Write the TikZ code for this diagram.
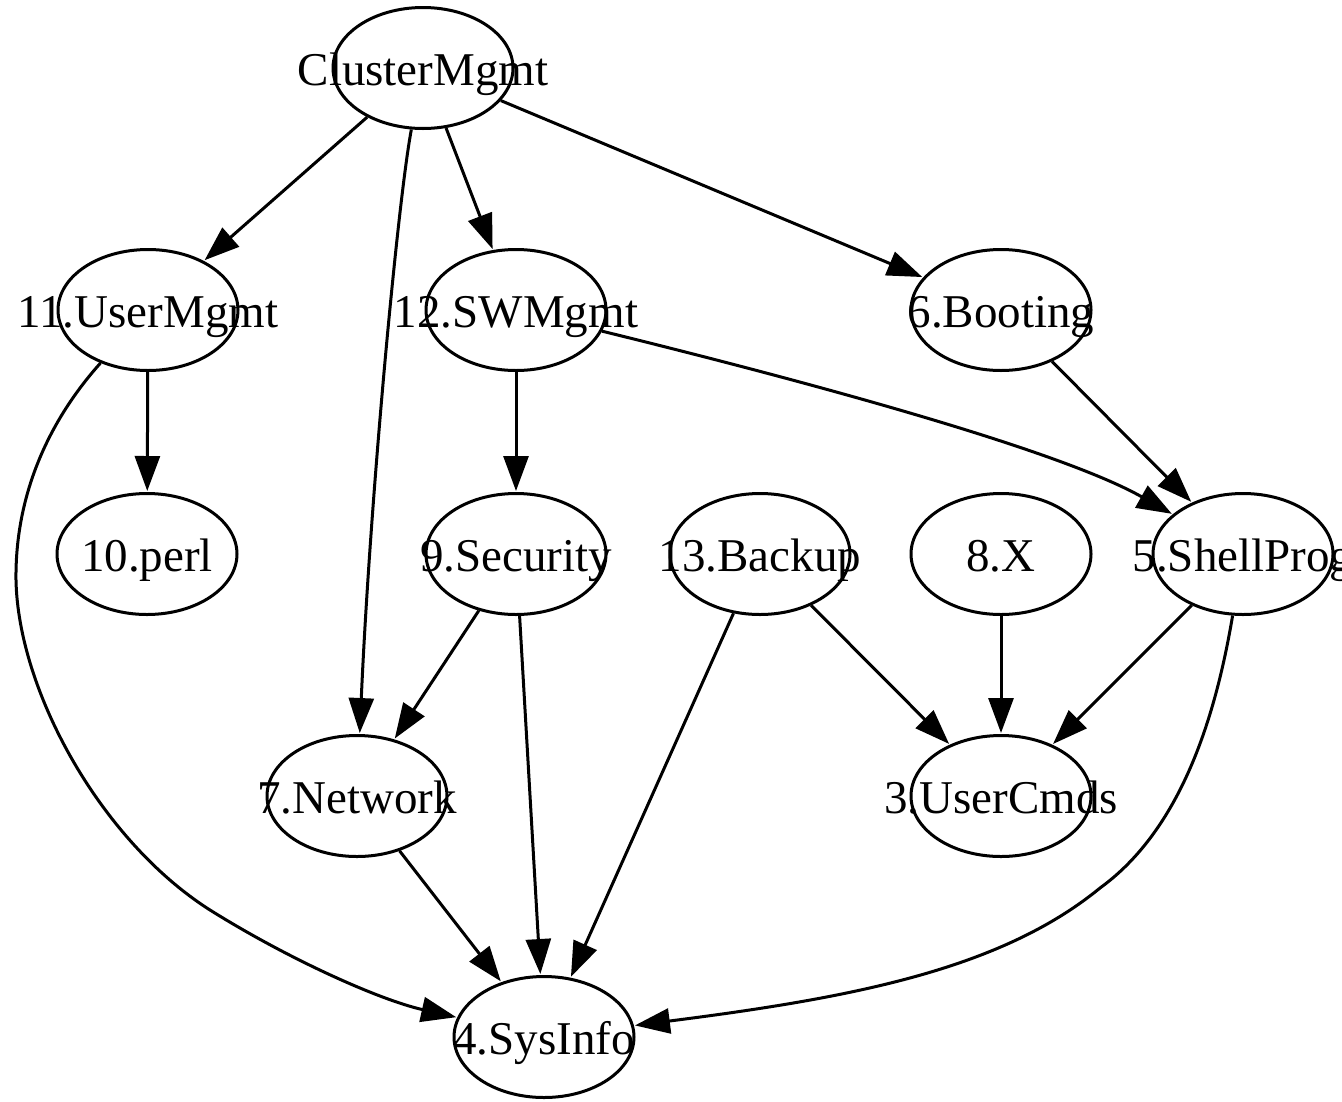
\documentclass[tikz,border=0pt]{standalone}
\usepackage{fontspec}
\setmainfont{Liberation Serif}
\usetikzlibrary{shapes.geometric,arrows.meta}
\begin{document}
\begin{tikzpicture}[x=0.3pt,y=-0.3pt,
  nd/.style={draw,ellipse,line width=0.9pt,minimum width=54pt,minimum height=36.3pt,inner sep=0pt},
  lb/.style={anchor=base,inner sep=0pt,font=\fontsize{14.1}{17}\selectfont},
  arr/.style={line width=0.9pt,-{Triangle[length=10.5pt,width=7.5pt]},shorten >=0.3pt}]
\useasboundingbox (0,0) rectangle (1342,1101);
\newcommand\gvnode[4]{\node[nd] (#1) at (#2,#3) {}; \node[lb] (#1t) at (#2,#3+17) {#4};}
\gvnode{cm}{423}{68}{ClusterMgmt}
\gvnode{um}{148}{310}{11.UserMgmt}
\gvnode{sw}{516}{310}{12.SWMgmt}
\gvnode{bo}{1001}{310}{6.Booting}
\gvnode{pe}{147}{554}{10.perl}
\gvnode{se}{516}{554}{9.Security}
\gvnode{ba}{760}{554}{13.Backup}
\gvnode{xx}{1001}{554}{8.X}
\gvnode{sp}{1243}{554}{5.ShellProg}
\gvnode{nw}{357}{796}{7.Network}
\gvnode{uc}{1001}{796}{3.UserCmds}
\gvnode{si}{544}{1037}{4.SysInfo}
% edges
\draw[arr] (cm) -- (um);
\draw[arr] (cm) .. controls (398,200) and (370,500) .. (nw);
\draw[arr] (cm) -- (sw);
\draw[arr] (cm) -- (bo);
\draw[arr] (um) -- (pe);
\draw[arr] (um) .. controls (45,425) and (15,500) .. (16,580)
  .. controls (18,690) and (100,840) .. (210,910)
  .. controls (290,960) and (380,1000) .. (si);
\draw[arr] (sw) -- (se);
\draw[arr] (sw) .. controls (760,370) and (1050,445) .. (sp);
\draw[arr] (bo) -- (sp);
\draw[arr] (se) -- (nw);
\draw[arr] (se) -- (si);
\draw[arr] (ba) -- (si);
\draw[arr] (ba) -- (uc);
\draw[arr] (xx) -- (uc);
\draw[arr] (sp) -- (uc);
\draw[arr] (sp) .. controls (1215,720) and (1180,830) .. (1100,888)
  .. controls (1000,970) and (850,998) .. (si);
\draw[arr] (nw) -- (si);
\end{tikzpicture}
\end{document}
